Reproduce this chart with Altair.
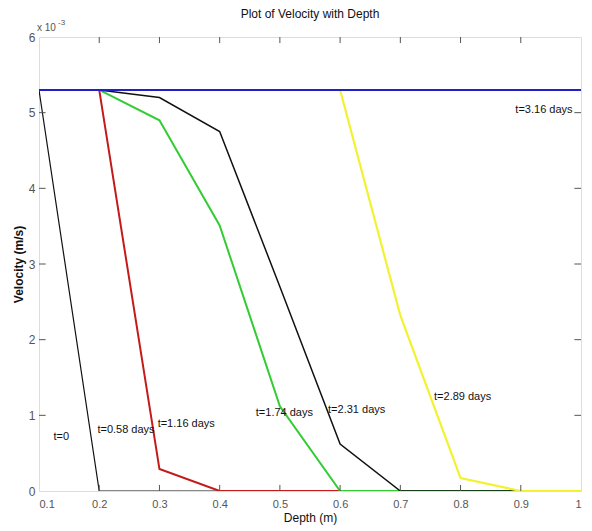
import altair as alt
import pandas as pd

depth = [0.1, 0.2, 0.3, 0.4, 0.5, 0.6, 0.7, 0.8, 0.9, 1.0]
# velocity values in units of 1e-3 m/s; None = not drawn
s_t0 = [5.3, 0, 0, 0, 0, 0, 0, 0, 0, 0]
s_red = [None, 5.3, 0.29, 0, 0, 0, 0, 0, 0, 0]
s_green = [None, 5.3, 4.9, 3.51, 1.12, 0, 0, 0, 0, 0]
s_black = [None, 5.3, 5.2, 4.75, 2.7, 0.62, 0, 0, 0, 0]
s_yellow = [None, None, None, None, None, 5.3, 2.32, 0.17, 0, 0]
s_blue = [5.3, 5.3, 5.3, 5.3, 5.3, 5.3, 5.3, 5.3, 5.3, 5.3]

series_names = ["a", "b", "c", "d", "e", "f"]
series_vals = [s_t0, s_red, s_green, s_black, s_yellow, s_blue]
series_colors = ["#111111", "#c41a1a", "#33cc33", "#111111", "#f2f230", "#2020c8"]
series_widths = [1.2, 2.0, 2.0, 1.5, 2.2, 2.0]

label_text = ["t=0", "t=0.58 days", "t=1.16 days", "t=1.74 days",
              "t=2.31 days", "t=2.89 days", "t=3.16 days"]
label_x = [0.124, 0.197, 0.297, 0.46, 0.58, 0.756, 0.891]
label_y = [0.71, 0.8, 0.88, 1.03, 1.07, 1.24, 5.03]

x_ticks = [0.1, 0.2, 0.3, 0.4, 0.5, 0.6, 0.7, 0.8, 0.9, 1.0]
y_ticks = [0, 1, 2, 3, 4, 5, 6]

FONT = "Liberation Sans"

rows = []
for name, vals in zip(series_names, series_vals):
    for d, v in zip(depth, vals):
        if v is not None:
            rows.append({"depth": d, "vel": v, "series": name})
df = pd.DataFrame(rows)

xs = alt.Scale(domain=[0.1, 1.0], nice=False)
ys = alt.Scale(domain=[0, 6], nice=False)

layers = []
for name, col, w in zip(series_names, series_colors, series_widths):
    layers.append(
        alt.Chart(df[df.series == name]).mark_line(color=col, strokeWidth=w, clip=True).encode(
            x=alt.X("depth:Q", scale=xs,
                    axis=alt.Axis(values=x_ticks, title="Depth (m)", grid=False,
                                  labelExpr="datum.value == 1 ? '1' : format(datum.value, '.1f')",
                                  tickSize=0, labelPadding=7, titlePadding=3,
                                  labelColor="#555555", labelFontSize=11, labelFont=FONT,
                                  titleFont=FONT, titleFontSize=12, titleFontWeight="normal",
                                  titleColor="#111111", domain=False)),
            y=alt.Y("vel:Q", scale=ys,
                    axis=alt.Axis(values=y_ticks, title="Velocity (m/s)", grid=False,
                                  format="d",
                                  tickSize=0, labelPadding=4, titlePadding=3,
                                  labelColor="#555555", labelFontSize=12, labelFont=FONT,
                                  titleFont=FONT, titleFontSize=12, titleFontWeight="bold",
                                  titleColor="#111111", domain=False)),
        )
    )

# inward ticks
tick_len_y = 0.08
tick_len_x = 0.011
bx = pd.DataFrame({"x": x_ticks[1:-1]})
by = pd.DataFrame({"y": y_ticks[1:-1]})
tick_col = "#555555"
ticks = [
    alt.Chart(bx).mark_rule(color=tick_col).encode(x=alt.X("x:Q", scale=xs), y=alt.datum(0), y2=alt.datum(tick_len_y)),
    alt.Chart(bx).mark_rule(color=tick_col).encode(x=alt.X("x:Q", scale=xs), y=alt.datum(6), y2=alt.datum(6 - tick_len_y)),
    alt.Chart(by).mark_rule(color=tick_col).encode(y=alt.Y("y:Q", scale=ys), x=alt.datum(0.1), x2=alt.datum(0.1 + tick_len_x)),
    alt.Chart(by).mark_rule(color=tick_col).encode(y=alt.Y("y:Q", scale=ys), x=alt.datum(1.0), x2=alt.datum(1.0 - tick_len_x)),
]

labels_df = pd.DataFrame({"x": label_x, "y": label_y, "t": label_text})
labels = alt.Chart(labels_df).mark_text(align="left", baseline="middle", font=FONT,
                                        fontSize=11, color="#111111").encode(
    x=alt.X("x:Q", scale=xs), y=alt.Y("y:Q", scale=ys), text="t:N")

exp_df = pd.DataFrame({"x": [0.1], "y": [6.0]})
exp1 = alt.Chart(exp_df).mark_text(align="left", baseline="bottom", font=FONT, fontSize=10,
                                   color="#555555", dx=-2, dy=-4).encode(
    x=alt.X("x:Q", scale=xs), y=alt.Y("y:Q", scale=ys), text=alt.value("x 10"))
exp2 = alt.Chart(exp_df).mark_text(align="left", baseline="bottom", font=FONT, fontSize=8,
                                   color="#555555", dx=19, dy=-10).encode(
    x=alt.X("x:Q", scale=xs), y=alt.Y("y:Q", scale=ys), text=alt.value("-3"))

title_df = pd.DataFrame({"x": [0.55], "y": [6.0], "t": ["Plot of Velocity with Depth"]})
title = alt.Chart(title_df).mark_text(align="center", baseline="bottom", font=FONT, fontSize=12,
                                      color="#111111", dy=-16).encode(
    x=alt.X("x:Q", scale=xs), y=alt.Y("y:Q", scale=ys), text="t:N")

chart = alt.layer(*layers, *ticks, labels, exp1, exp2, title).properties(
    width=542, height=454,
    autosize=alt.AutoSizeParams(type="none"),
    padding={"left": 31, "top": 29, "right": 3, "bottom": 38},
).configure_view(stroke="#666666", strokeWidth=1.2).configure(background="white")

chart.save("out.html", embed_options={"renderer": "svg", "actions": False})
